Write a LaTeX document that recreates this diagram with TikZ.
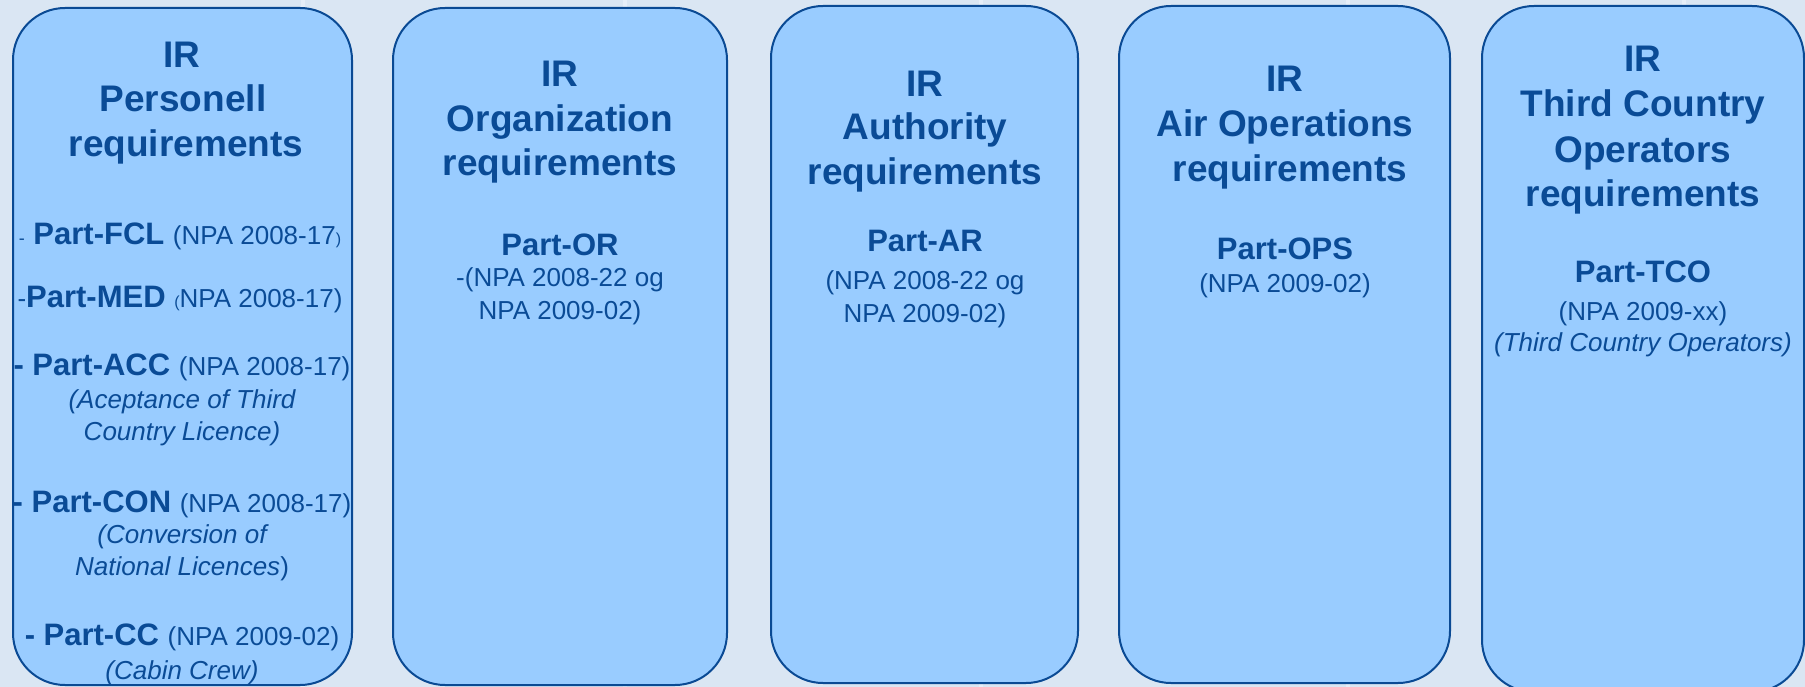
\documentclass[tikz,border=0pt]{standalone}
\usepackage{fontspec}
\setmainfont{Liberation Sans}
\definecolor{bg}{RGB}{218,230,243}
\definecolor{stripecol}{RGB}{230,238,248}
\definecolor{boxfill}{RGB}{153,204,255}
\definecolor{edge}{RGB}{10,74,148}
\definecolor{ink}{RGB}{10,75,150}
\begin{document}
\begin{tikzpicture}[x=1pt,y=-1pt,
  panel/.style={draw=edge, fill=boxfill, line width=2pt, rounded corners=52pt, inner sep=0pt, outer sep=0pt},
  title/.style={text=ink, font=\fontsize{37}{44}\selectfont\bfseries, anchor=base, inner sep=0pt},
  part/.style={text=ink, font=\fontsize{31}{36}\selectfont, anchor=base, inner sep=0pt},
  note/.style={text=ink, font=\fontsize{26}{30}\selectfont, anchor=base, inner sep=0pt},
  stripe/.style={draw=stripecol, line width=4pt}]
\useasboundingbox (0,0) rectangle (1805,687);
\fill[bg] (0,0) rectangle (1805,687);
\foreach \sx in {303,625,981,1348,1684} \draw[stripe] (\sx,0) -- (\sx,687);

% panels
\node[panel, minimum width=339pt, minimum height=677pt] (p1) at (182.5,346.5) {};
\node[panel, minimum width=334pt, minimum height=677pt] (p2) at (560,346.5) {};
\node[panel, minimum width=307pt, minimum height=677pt] (p3) at (924.5,344.5) {};
\node[panel, minimum width=331pt, minimum height=677pt] (p4) at (1284.5,344.5) {};
\node[panel, minimum width=322pt, minimum height=686pt] (p5) at (1643,349) {};

% panel 1
\node[title] (t1a) at (182,68) {IR};
\node[title] (t1b) at (183,112) {Personell};
\node[title] (t1c) at (186,157) {requirements};
\node[part] (p1a) at (180,245) {{\fontsize{18}{18}\selectfont -} \textbf{Part-FCL} {\fontsize{26}{30}\selectfont (NPA 2008-17{\fontsize{16}{16}\selectfont )}}};
\node[part] (p1b) at (180,307) {{\fontsize{26}{30}\selectfont -}\textbf{Part-MED} {\fontsize{16}{16}\selectfont (}{\fontsize{26}{30}\selectfont NPA 2008-17)}};
\node[part] (p1c) at (182,375) {\textbf{- Part-ACC} {\fontsize{26}{30}\selectfont (NPA 2008-17)}};
\node[note] (n1c1) at (182,408) {\itshape (Aceptance of Third};
\node[note] (n1c2) at (182,440) {\itshape Country Licence)};
\node[part] (p1d) at (182,512) {\textbf{- Part-CON} {\fontsize{26}{30}\selectfont (NPA 2008-17)}};
\node[note] (n1d1) at (182,543) {\itshape (Conversion of};
\node[note] (n1d2) at (182,575) {{\itshape National Licences})};
\node[part] (p1e) at (182,645) {\textbf{- Part-CC} {\fontsize{26}{30}\selectfont (NPA 2009-02)}};
\node[note] (n1e1) at (182,679) {\itshape (Cabin Crew)};

% panel 2
\node[title] (t2a) at (560,87) {IR};
\node[title] (t2b) at (560,132) {Organization};
\node[title] (t2c) at (560,176) {requirements};
\node[part] (p2a) at (560,255) {\textbf{Part-OR}};
\node[note] (n2a1) at (560,287) {-(NPA 2008-22 og};
\node[note] (n2a2) at (560,319) {NPA 2009-02)};

% panel 3
\node[title] (t3a) at (925,97) {IR};
\node[title] (t3b) at (925,140) {Authority};
\node[title] (t3c) at (925,185) {requirements};
\node[part] (p3a) at (925,252) {\textbf{Part-AR}};
\node[note] (n3a1) at (925,290) {(NPA 2008-22 og};
\node[note] (n3a2) at (925,322) {NPA 2009-02)};

% panel 4
\node[title] (t4a) at (1285,92) {IR};
\node[title] (t4b) at (1285,137) {Air Operations};
\node[title] (t4c) at (1290,182) {requirements};
\node[part] (p4a) at (1285,260) {\textbf{Part-OPS}};
\node[note] (n4a1) at (1285,292) {(NPA 2009-02)};

% panel 5
\node[title] (t5a) at (1643,72) {IR};
\node[title] (t5b) at (1643,117) {Third Country};
\node[title] (t5c) at (1643,163) {Operators};
\node[title] (t5d) at (1643,207) {requirements};
\node[part] (p5a) at (1643,283) {\textbf{Part-TCO}};
\node[note] (n5a1) at (1643,320) {(NPA 2009-xx)};
\node[note] (n5a2) at (1643,351) {\itshape (Third Country Operators)};
\end{tikzpicture}
\end{document}
